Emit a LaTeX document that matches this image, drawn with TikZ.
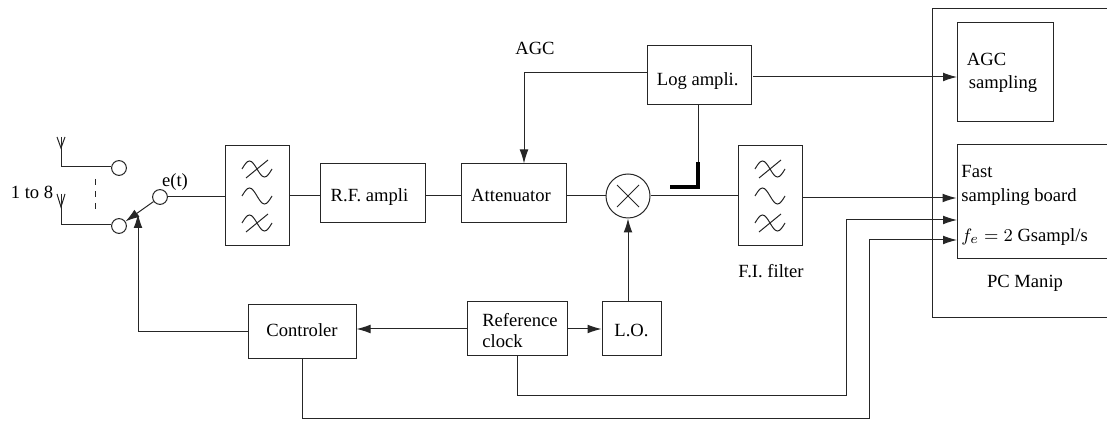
\documentclass[tikz,border=0pt]{standalone}
\usepackage{fontspec}
\setmainfont{Liberation Serif}
\usetikzlibrary{arrows.meta,positioning,calc}
\tikzset{
  ln/.style={line width=.5pt,draw=black!85},
  arr/.style={ln,-{Latex[length=7pt,width=4.4pt]}},
  box/.style={ln,rectangle,inner sep=0pt,align=left,text depth=0pt,font=\fontsize{9.3}{10.5}\selectfont},
  lab/.style={inner sep=0pt,align=left,font=\fontsize{9.3}{11.6}\selectfont},
  port/.style={ln,circle,inner sep=0pt,minimum size=7.4pt},
  bold/.style={draw=black,line width=2pt},
  wave/.pic={
    \foreach \y in {-27,0,27}{\draw[ln] (-15,\y) sin (-7.5,\y-8) cos (0,\y) sin (7.5,\y+8) cos (15,\y);}
    \foreach \y in {-27,27}{\draw[ln] (-11,\y+9) -- (11,\y-9);}
  }
}
\begin{document}
\begin{tikzpicture}[x=.5pt,y=-.5pt]
  \clip[use as bounding box] (0,0) rectangle (1107,421);

  \node[box,minimum width=92pt,minimum height=154.5pt] (pc) at (1024,163.5) {};
  \node[box,minimum width=48pt,minimum height=49.5pt] (agcs) at (1005,72.5) {};
  \node[box,minimum width=80pt,minimum height=57pt] (fast) at (1037,202) {};
  \node[lab] (agcs1) at (1002,73) {AGC\\\hspace{1pt}sampling};
  \node[lab,anchor=west] (fast1) at (961,185.5) {Fast\\sampling board};
  \node[lab,anchor=west] (fast2) at (961,237) {$f_e=2$ Gsampl/s};
  \node[lab] (pclab) at (1025,283) {PC Manip};

  \node[box,minimum width=32pt,minimum height=50pt] (flt1) at (257,196) {};
  \node[box,text height=8pt,minimum width=52.5pt,minimum height=29.5pt] (rf) at (372.5,193.5) {\mbox{R.F. ampli\kern3pt}};
  \node[box,text height=8pt,minimum width=52.5pt,minimum height=29.5pt] (att) at (513.5,193.5) {\mbox{Attenuator\kern2.5pt}};
  \node[ln,circle,inner sep=0pt,minimum size=22pt] (mix) at (628,196) {};
  \node[box,minimum width=32pt,minimum height=50pt] (flt2) at (770,196) {};
  \node[box,text height=10.5pt,minimum width=52pt,minimum height=29.5pt] (log) at (699,75.5) {\mbox{Log ampli.\kern1.3pt}};
  \node[lab] (agc) at (535,48) {AGC};
  \node[lab] (filab) at (771,271) {F.I. filter};
  \node[lab] (oneto) at (32,192) {1 to 8};
  \node[lab] (etlab) at (175,182) {e(t)};

  \node[box,text height=5pt,minimum width=54pt,minimum height=27pt] (ctrl) at (302,332) {Controler};
  \node[box,minimum width=50pt,minimum height=27pt] (ref) at (517,329) {};
  \node[lab] (reflab) at (520,331) {Reference\\[-1.1pt]clock};
  \node[box,text height=8pt,minimum width=29.5pt,minimum height=27pt] (lo) at (631.5,329) {L.O.};

  \node[port] (sw1) at (119,168) {};
  \node[port] (sw2) at (119,226) {};
  \node[port] (swe) at (160,197) {};
  \coordinate (ant1) at (61,167);
  \coordinate (ant2) at (61,225);
  \coordinate (swc) at (138,214);
  \coordinate (logl) at (647,73);
  \coordinate (logr) at (753,77);
  \coordinate (agcin) at (957,77);
  \coordinate (kink) at (698,187);
  \coordinate (kinkl) at (670,187);
  \coordinate (kinku) at (698,162);

  \pic at (flt1.center) {wave};
  \pic at (flt2.center) {wave};
  \draw[ln] ($(mix)+(-11,-11)$) -- ($(mix)+(11,11)$) ($(mix)+(-11,11)$) -- ($(mix)+(11,-11)$);

  \draw[ln] (61,137) -- (ant1) -- (ant1 -| sw1.west);
  \draw[ln] (57,137) -- (61,148) -- (65,137);
  \draw[ln] (61,194) -- (ant2) -- (ant2 -| sw2.west);
  \draw[ln] (57,194) -- (61,207) -- (65,194);
  \draw[ln,dashed] (95,179) -- (95,209);
  \draw[arr] (swe) -- (sw2);
  \draw[ln] (swe.east) -- (swe.east -| flt1.west);
  \draw[ln] (flt1.east) -- (flt1.east -| rf.west);
  \draw[ln] (rf.east |- flt1) -- (att.west |- flt1);
  \draw[ln] (att.east |- mix) -- (mix.west);
  \draw[ln] (mix.east) -- (flt2.west);
  \draw[arr] ($(flt2.east)+(0,2)$) -- ($(flt2.east -| fast.west)+(0,2)$);

  \draw[arr] (logl) -| (att.north -| 524,0);
  \draw[arr] (logr) -- (agcin);
  \draw[ln] (log.south -| kink) -- (kinku);
  \draw[bold] (kinkl) -- (kink) -- (kinku);

  \draw[arr] (mix |- lo.north) -- (mix.south);
  \draw[arr] (ref.east) -- (lo.west);
  \draw[arr] (ref.west) -- (ref.west -| ctrl.east);
  \draw[arr] (ctrl.west) -| (swc);
  \draw[arr] (ref.south) |- (846,396) |- (957,220);
  \draw[arr] (ctrl.south) |- (869,419) |- (957,240);
\end{tikzpicture}
\end{document}
